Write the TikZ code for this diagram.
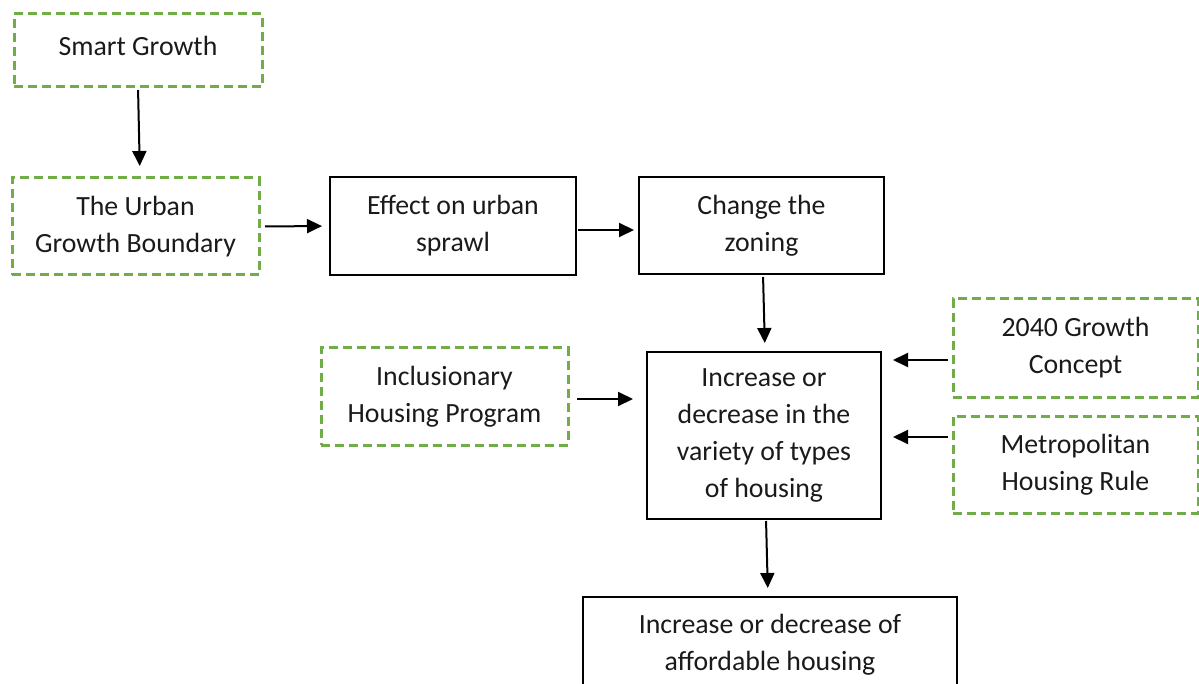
\documentclass[tikz,border=0pt]{standalone}
\usepackage{fontspec}
\setmainfont{Carlito}
\usetikzlibrary{arrows.meta}
\definecolor{boxgreen}{HTML}{70AD47}
\definecolor{txt}{HTML}{1A1A1A}
\begin{document}
\begin{tikzpicture}[x=1pt,y=-1pt,
  every node/.style={font=\fontsize{27.8}{37}\selectfont, text=txt, align=center, inner sep=0pt, outer sep=0pt},
  solidbox/.style={draw=black, line width=2pt},
  dashbox/.style={draw=boxgreen, line width=3pt, dash pattern=on 9pt off 5pt},
  flow/.style={draw=black, line width=2pt, -{Triangle[length=15pt,width=14pt]}}]
\useasboundingbox (0,0) rectangle (1199,684);

% boxes
\node[dashbox, minimum width=248pt, minimum height=73pt] (sg) at (138,50.5) {\raisebox{10pt}{Smart Growth}};
\node[dashbox, minimum width=247pt, minimum height=97pt] (ugb) at (135.5,226.5) {The Urban\\Growth Boundary};
\node[solidbox, minimum width=246pt, minimum height=98pt] (eff) at (453,226) {Effect on urban\\sprawl};
\node[solidbox, minimum width=245pt, minimum height=97pt] (chg) at (761.5,225.5) {Change the\\zoning};
\node[dashbox, minimum width=247pt, minimum height=97pt] (inc) at (444.5,396.5) {Inclusionary\\Housing Program};
\node[solidbox, minimum width=234pt, minimum height=167pt] (var) at (764,435.5) {Increase or\\decrease in the\\variety of types\\of housing};
\node[dashbox, minimum width=245pt, minimum height=98pt] (g2040) at (1075.5,348) {2040 Growth\\Concept};
\node[dashbox, minimum width=245pt, minimum height=97pt] (metro) at (1075.5,464.5) {Metropolitan\\Housing Rule};
\node[solidbox, minimum width=374pt, minimum height=96pt] (aff) at (770,645) {Increase or decrease of\\affordable housing};

% connectors
\draw[flow, shorten <=3pt, shorten >=12pt] (sg.south) -- ([xshift=4.5pt]ugb.north);
\draw[flow, shorten <=6pt, shorten >=8pt] (ugb.east) -- (eff.west);
\draw[flow, shorten <=2pt, shorten >=5pt] ([yshift=-4pt]eff.east) -- ([yshift=-4.5pt]chg.west);
\draw[flow, shorten <=3pt, shorten >=9pt] ([xshift=1.5pt]chg.south) -- ([xshift=1pt]var.north);
\draw[flow, shorten <=9pt, shorten >=14pt] ([yshift=-2.5pt]inc.east) -- ([yshift=36.5pt]var.west);
\draw[flow, shorten <=5pt, shorten >=12pt] ([yshift=-12pt]g2040.west) -- ([yshift=75.5pt]var.east);
\draw[flow, shorten <=5pt, shorten >=12pt] ([yshift=27.5pt]metro.west) -- ([yshift=-1.5pt]var.east);
\draw[flow, shorten <=2pt, shorten >=9pt] ([xshift=2pt]var.south) -- ([xshift=-2pt]aff.north);
\end{tikzpicture}
\end{document}
